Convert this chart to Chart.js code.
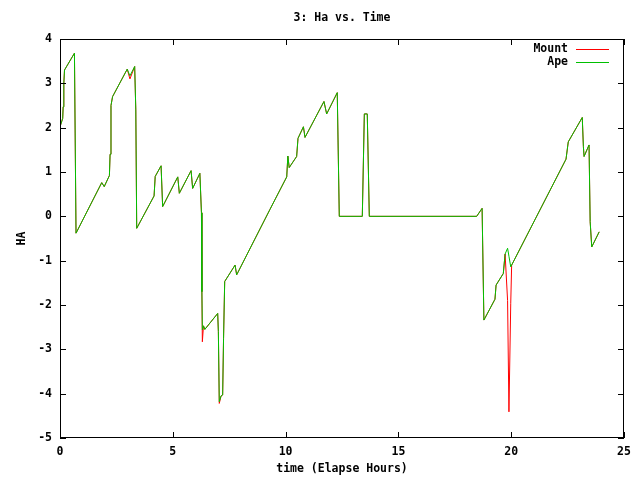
<!DOCTYPE html>
<html>
<head>
<meta charset="utf-8">
<script src="https://cdn.jsdelivr.net/npm/chart.js@4"></script>
<style>
  html, body { margin: 0; padding: 0; background: #fff; }
  #wrap { width: 640px; height: 480px; }
</style>
</head>
<body>
<div id="wrap"><canvas id="haChart" width="640" height="480"></canvas></div>
<script>
// elapsed time, hours
const time = [0.00, 0.12, 0.14, 0.17, 0.20, 0.64, 0.71, 1.85, 1.96, 2.19, 2.22, 2.26, 2.33, 2.98, 3.10, 3.31, 3.36, 3.40,
  4.17, 4.22, 4.48, 4.55, 5.22, 5.29, 5.81, 5.88, 6.20, 6.27, 6.29, 6.31, 6.36, 6.42, 6.99, 7.02, 7.06, 7.14, 7.21, 7.25,
  7.30, 7.76, 7.83, 9.31, 10.05, 10.10, 10.16, 10.49, 10.55, 10.79, 10.86, 11.70, 11.82, 12.29, 12.38, 13.40, 13.49,
  13.62, 13.71, 18.47, 18.71, 18.79, 19.28, 19.33, 19.65, 19.73, 19.84, 19.90, 19.98, 20.02, 22.43, 22.53, 23.15, 23.20,
  23.23, 23.45, 23.50, 23.57, 23.90];

const ape = [2.02, 2.21, 2.47, 3.00, 3.30, 3.68, -0.38, 0.76, 0.67, 0.92, 1.40, 2.50, 2.70, 3.32, 3.17, 3.38, 2.40, -0.27,
  0.46, 0.90, 1.14, 0.22, 0.89, 0.52, 1.03, 0.63, 0.97, 0.08, -1.70, -2.56, -2.47, -2.55, -2.19, -2.60, -4.18, -4.05, -4.03, -2.75,
  -1.47, -1.10, -1.32, 0.16, 0.89, 1.36, 1.10, 1.35, 1.76, 2.02, 1.78, 2.59, 2.31, 2.79, 0.00, 0.00, 2.31,
  2.31, 0.00, 0.00, 0.18, -2.34, -1.87, -1.55, -1.29, -0.85, -0.72, -0.90, -1.14, -1.10, 1.29, 1.68, 2.23, 1.57,
  1.35, 1.61, -0.12, -0.69, -0.35];

const mount = [2.02, 2.21, 2.47, 3.00, 3.30, 3.68, -0.38, 0.76, 0.67, 0.92, 1.40, 2.50, 2.70, 3.32, 3.10, 3.38, 2.40, -0.27,
  0.46, 0.90, 1.14, 0.22, 0.89, 0.52, 1.03, 0.63, 0.97, 0.08, -1.70, -2.83, -2.47, -2.55, -2.19, -2.60, -4.22, -4.05, -4.03, -2.75,
  -1.47, -1.10, -1.32, 0.16, 0.89, 1.36, 1.10, 1.35, 1.76, 2.02, 1.78, 2.59, 2.31, 2.79, 0.00, 0.00, 2.31,
  2.31, 0.00, 0.00, 0.18, -2.34, -1.87, -1.55, -1.29, -0.85, -1.90, -4.41, -1.96, -1.10, 1.29, 1.68, 2.23, 1.57,
  1.35, 1.61, -0.12, -0.69, -0.35];

const xTicks = [0, 5, 10, 15, 20, 25];
const yTicks = [-5, -4, -3, -2, -1, 0, 1, 2, 3, 4];

const RED = 'rgb(255,0,0)';
const GREEN = 'rgb(0,192,0)';
const FONT = 'bold 11.5px "DejaVu Sans Mono", monospace';
Chart.defaults.font = { family: '"DejaVu Sans Mono", monospace', size: 11.5, weight: 'bold' };
Chart.defaults.color = '#000';

// border box + inward ticks, gnuplot style
const framePlugin = {
  id: 'frame',
  afterDraw(chart) {
    const { ctx, chartArea: { left, right, top, bottom }, scales: { x, y } } = chart;
    ctx.save();
    ctx.strokeStyle = '#000';
    ctx.lineWidth = 1;
    ctx.strokeRect(left + 0.5, top + 0.5, right - left - 1, bottom - top - 1);
    ctx.beginPath();
    const len = 6;
    xTicks.forEach(v => {
      const px = Math.round(x.getPixelForValue(v)) + 0.5;
      ctx.moveTo(px, bottom); ctx.lineTo(px, bottom - len);
      ctx.moveTo(px, top); ctx.lineTo(px, top + len);
    });
    yTicks.forEach(v => {
      const py = Math.round(y.getPixelForValue(v)) + 0.5;
      ctx.moveTo(left, py); ctx.lineTo(left + len, py);
      ctx.moveTo(right, py); ctx.lineTo(right - len, py);
    });
    ctx.stroke();

    // title over plot centre
    ctx.font = FONT;
    ctx.textAlign = 'center';
    ctx.textBaseline = 'middle';
    ctx.fillStyle = '#000';
    ctx.fillText('3: Ha vs. Time', (left + right) / 2, 18);

    // key, top right inside the frame
    ctx.textAlign = 'right';
    const keyColors = [RED, GREEN];
    chart.data.datasets.forEach((ds, i) => {
      const ly = top + 10 + i * 13;
      ctx.fillStyle = '#000';
      ctx.fillText(ds.label, right - 56, ly);
      ctx.beginPath();
      ctx.strokeStyle = keyColors[i];
      ctx.moveTo(right - 48, ly + 0.5);
      ctx.lineTo(right - 15, ly + 0.5);
      ctx.stroke();
    });
    ctx.restore();
  }
};

new Chart(document.getElementById('haChart'), {
  type: 'line',
  data: {
    datasets: [
      {
        label: 'Mount',
        data: time.map((t, i) => ({ x: t, y: mount[i] })),
        borderColor: RED,
        borderWidth: 1,
        pointRadius: 0,
        tension: 0,
        order: 1
      },
      {
        label: 'Ape',
        data: time.map((t, i) => ({ x: t, y: ape[i] })),
        borderColor: GREEN,
        borderWidth: 1,
        pointRadius: 0,
        tension: 0,
        order: 0
      }
    ]
  },
  options: {
    responsive: false,
    animation: false,
    layout: { padding: { top: 39, right: 16, left: 0, bottom: 0 } },
    plugins: {
      legend: { display: false },
      title: { display: false },
      tooltip: { enabled: false }
    },
    scales: {
      x: {
        type: 'linear',
        min: 0,
        max: 25,
        afterBuildTicks: (s) => { s.ticks = xTicks.map(v => ({ value: v })); },
        afterFit: (s) => { s.height = 42; },
        ticks: { padding: 7, maxRotation: 0 },
        grid: { display: false, drawTicks: false },
        border: { display: false },
        title: { display: true, text: 'time (Elapse Hours)', padding: { top: 0, bottom: 4 } }
      },
      y: {
        type: 'linear',
        min: -5,
        max: 4,
        afterBuildTicks: (s) => { s.ticks = yTicks.map(v => ({ value: v })); },
        afterFit: (s) => { s.width = 60; },
        ticks: { padding: 8 },
        grid: { display: false, drawTicks: false },
        border: { display: false },
        title: { display: true, text: 'HA', padding: { top: 15, bottom: 0 } }
      }
    }
  },
  plugins: [framePlugin]
});
</script>
</body>
</html>
